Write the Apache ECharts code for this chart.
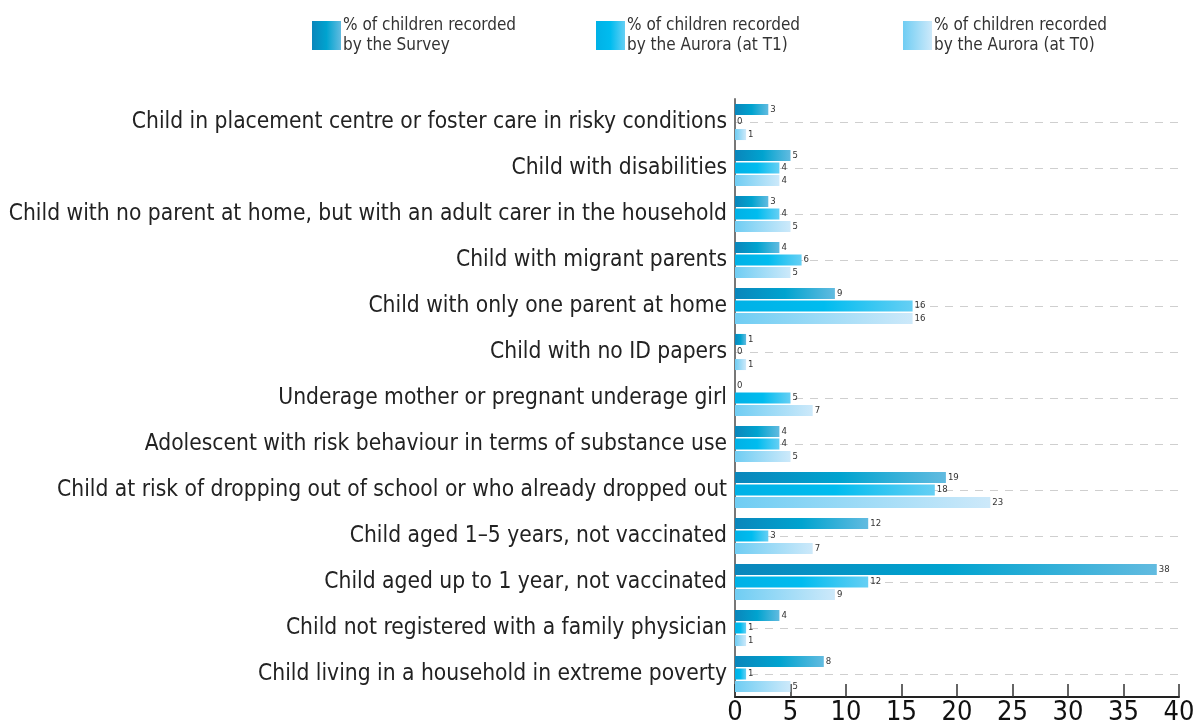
<!DOCTYPE html>
<html>
<head>
<meta charset="utf-8">
<script src="https://cdn.jsdelivr.net/npm/echarts@6/dist/echarts.min.js"></script>
<style>
  html, body { margin: 0; padding: 0; background: #fff; }
  #chart { width: 1193px; height: 727px; }
</style>
</head>
<body>
<div id="chart"></div>
<script>
// Vulnerability categories, listed top to bottom
const categories = [
  'Child in placement centre or foster care in risky conditions',
  'Child with disabilities',
  'Child with no parent at home, but with an adult carer in the household',
  'Child with migrant parents',
  'Child with only one parent at home',
  'Child with no ID papers',
  'Underage mother or pregnant underage girl',
  'Adolescent with risk behaviour in terms of substance use',
  'Child at risk of dropping out of school or who already dropped out',
  'Child aged 1\u20135 years, not vaccinated',
  'Child aged up to 1 year, not vaccinated',
  'Child not registered with a family physician',
  'Child living in a household in extreme poverty'
];

// Percentage of children per source
const surveyValues = [3, 5, 3, 4, 9, 1, 0, 4, 19, 12, 38, 4, 8];
const auroraT1Values = [0, 4, 4, 6, 16, 0, 5, 4, 18, 3, 12, 1, 1];
const auroraT0Values = [1, 4, 5, 5, 16, 1, 7, 5, 23, 7, 9, 1, 5];

const seriesNames = [
  '% of children recorded\nby the Survey',
  '% of children recorded\nby the Aurora (at T1)',
  '% of children recorded\nby the Aurora (at T0)'
];

const xTicks = { min: 0, max: 40, interval: 5 };

const FONT = '"DejaVu Sans Condensed", "Liberation Sans", sans-serif';

function grad(stops) {
  return new echarts.graphic.LinearGradient(0, 0, 1, 0,
    stops.map(s => ({ offset: s[0], color: s[1] })));
}

const colors = [
  grad([[0, '#0a86bb'], [0.5, '#00a3cf'], [1, '#62bbe0']]),
  grad([[0, '#00b1e6'], [0.5, '#00bcef'], [1, '#66cff4']]),
  grad([[0, '#6fcdf3'], [1, '#cde9fa']])
];

const valueSets = [surveyValues, auroraT1Values, auroraT0Values];

const series = valueSets.map((vals, i) => {
  const s = {
    name: seriesNames[i],
    type: 'bar',
    data: vals,
    barWidth: 11,
    barGap: '14%',
    itemStyle: { color: colors[i] },
    label: {
      show: true,
      position: 'right',
      distance: 2,
      fontFamily: FONT,
      fontSize: 9.5,
      color: '#333'
    },
    emphasis: { disabled: true }
  };
  if (i === 1) {
    // dashed guide through the centre of each category, kept behind the bars
    s.markLine = {
      silent: true,
      symbol: 'none',
      z: 0,
      label: { show: false },
      lineStyle: { color: '#cfcfcf', type: [8, 7], width: 1 },
      data: categories.map(c => ({ yAxis: c }))
    };
  }
  return s;
});

const legendLefts = [312, 596, 903];
const legends = seriesNames.map((n, i) => ({
  data: [{ name: n, icon: 'rect' }],
  left: legendLefts[i],
  top: 13,
  itemWidth: 29,
  itemHeight: 29,
  itemGap: 0,
  padding: 0,
  selectedMode: false,
  textStyle: {
    fontFamily: FONT,
    fontSize: 17,
    color: '#333',
    lineHeight: 20,
    padding: [5, 0, 0, -3]
  }
}));

const chart = echarts.init(document.getElementById('chart'), null, { renderer: 'canvas' });
chart.setOption({
  animation: false,
  backgroundColor: '#fff',
  legend: legends,
  grid: { left: 735, right: 14, top: 99, bottom: 30, containLabel: false, outerBoundsMode: 'none' },
  xAxis: {
    type: 'value',
    min: xTicks.min,
    max: xTicks.max,
    interval: xTicks.interval,
    axisLine: { show: true, lineStyle: { color: '#222', width: 2 } },
    axisTick: { show: true, inside: true, length: 13, lineStyle: { color: '#333', width: 1.5 } },
    splitLine: { show: false },
    axisLabel: { fontFamily: FONT, fontSize: 27, color: '#111', margin: 2 }
  },
  yAxis: {
    type: 'category',
    data: categories,
    inverse: true,
    axisLine: { show: true, lineStyle: { color: '#777', width: 2 } },
    axisTick: { show: false },
    splitLine: { show: false },
    axisLabel: { fontFamily: FONT, fontSize: 22.6, color: '#222', margin: 8 }
  },
  series: series
});
</script>
</body>
</html>
